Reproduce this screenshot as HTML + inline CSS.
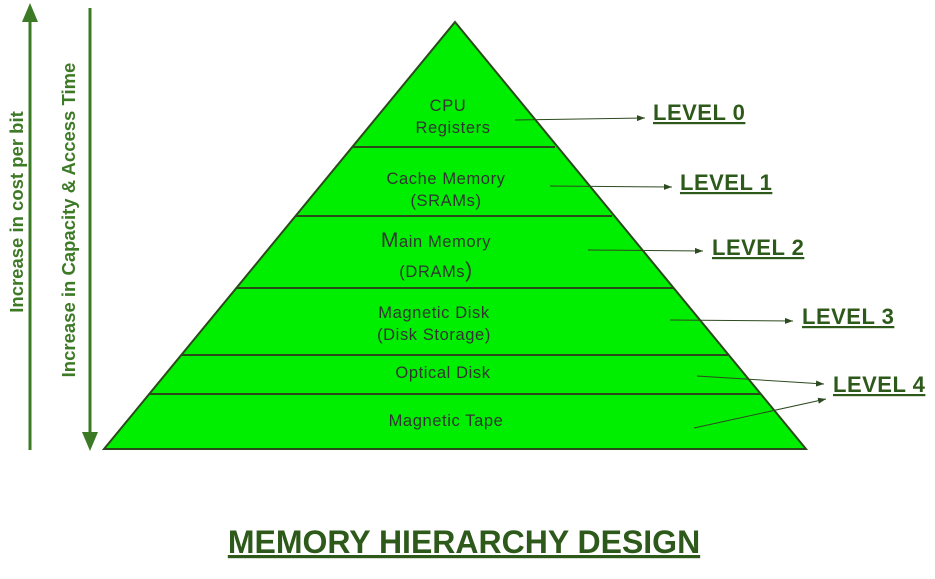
<!DOCTYPE html>
<html><head><meta charset="utf-8"><style>body{margin:0;background:#fff}</style></head><body>
<svg width="935" height="574" xmlns="http://www.w3.org/2000/svg" font-family="Liberation Sans, sans-serif">
<defs>
<marker id="a" markerWidth="8" markerHeight="6" refX="8" refY="3" orient="auto" markerUnits="userSpaceOnUse"><path d="M0,0L8,3L0,6z" fill="#2d4a20"/></marker>
</defs>
<polygon points="455,22 806,449 104,449" fill="#00ee00" stroke="#2a4a1a" stroke-width="2"/>
<g stroke="#2a4a1a" stroke-width="2">
<line x1="353" y1="147" x2="555" y2="147"/>
<line x1="296" y1="216" x2="612" y2="216"/>
<line x1="237" y1="288" x2="674" y2="288"/>
<line x1="182" y1="355" x2="728" y2="355"/>
<line x1="149" y1="394" x2="760" y2="394"/>
</g>
<g fill="#333" font-size="16.5" letter-spacing="0.6" text-anchor="middle">
<text x="448" y="111">CPU</text><text x="453" y="133">Registers</text>
<text x="446" y="184">Cache Memory</text><text x="446" y="206">(SRAMs)</text>
<text x="436" y="247"><tspan font-size="21">M</tspan>ain Memory</text><text x="436" y="277">(DRAMs<tspan font-size="21">)</tspan></text>
<text x="434" y="318">Magnetic Disk</text><text x="434" y="340">(Disk Storage)</text>
<text x="443" y="378">Optical Disk</text>
<text x="446" y="426">Magnetic Tape</text>
</g>
<g stroke="#2d4a20" stroke-width="1" marker-end="url(#a)">
<line x1="515" y1="120" x2="645" y2="118"/>
<line x1="550" y1="186" x2="672" y2="187"/>
<line x1="588" y1="250" x2="703" y2="251"/>
<line x1="670" y1="320" x2="793" y2="321"/>
<line x1="697" y1="376" x2="824" y2="384"/>
<line x1="694" y1="428" x2="826" y2="399"/>
</g>
<g fill="#2d5a1b" font-size="22" font-weight="bold" letter-spacing="0.5" text-decoration="underline">
<text x="653" y="120">LEVEL 0</text>
<text x="680" y="190">LEVEL 1</text>
<text x="712" y="255">LEVEL 2</text>
<text x="802" y="324">LEVEL 3</text>
<text x="833" y="392">LEVEL 4</text>
<text x="464" y="553" font-size="32" letter-spacing="0" text-anchor="middle">MEMORY HIERARCHY DESIGN</text>
</g>
<g stroke="#3d7a25" stroke-width="3">
<line x1="30" y1="450" x2="30" y2="18"/>
<line x1="90" y1="8" x2="90" y2="436"/>
</g>
<polygon points="30,3 22,22 38,22" fill="#3d7a25"/>
<polygon points="90,451 82,432 98,432" fill="#3d7a25"/>
<g fill="#3d7a25" font-size="18.5" font-weight="bold" text-anchor="middle">
<text transform="translate(23,212) rotate(-90)">Increase in cost per bit</text>
<text transform="translate(75,220) rotate(-90)">Increase in Capacity &amp; Access Time</text>
</g>
</svg>
</body></html>
